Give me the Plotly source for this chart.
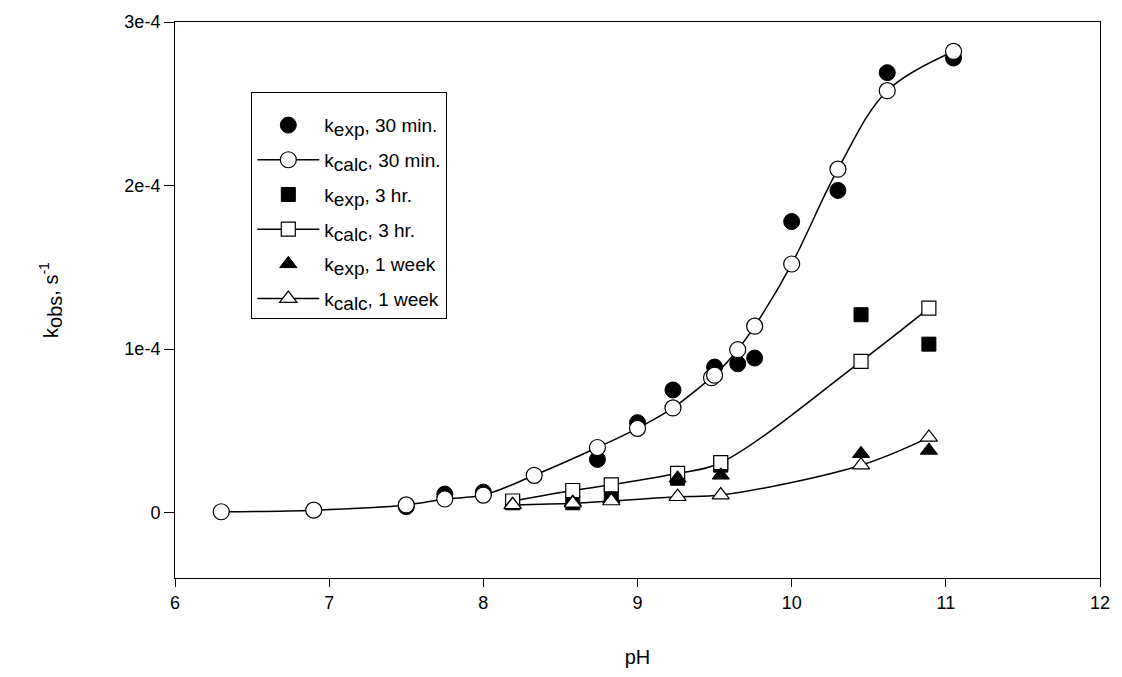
import plotly.graph_objects as go

# ---- data (pH, k in s^-1) ----
ph_exp_30 = [7.5, 7.75, 8.0, 8.74, 9.0, 9.23, 9.5, 9.65, 9.76, 10.0, 10.3, 10.62, 11.05]
k_exp_30 = [0.036e-4, 0.113e-4, 0.125e-4, 0.325e-4, 0.55e-4, 0.75e-4, 0.89e-4, 0.91e-4,
            0.945e-4, 1.78e-4, 1.97e-4, 2.69e-4, 2.78e-4]

ph_calc_30 = [6.3, 6.9, 7.5, 7.75, 8.0, 8.33, 8.74, 9.0, 9.23, 9.48, 9.5, 9.65, 9.76,
              10.0, 10.3, 10.62, 11.05]
k_calc_30 = [0.005e-4, 0.015e-4, 0.047e-4, 0.083e-4, 0.107e-4, 0.228e-4, 0.398e-4, 0.515e-4,
             0.64e-4, 0.825e-4, 0.84e-4, 0.996e-4, 1.14e-4, 1.52e-4, 2.10e-4, 2.58e-4, 2.82e-4]

ph_exp_3h = [8.19, 8.58, 8.83, 9.26, 9.54, 10.45, 10.89]
k_exp_3h = [0.06e-4, 0.06e-4, 0.107e-4, 0.21e-4, 0.29e-4, 1.21e-4, 1.03e-4]

ph_calc_3h = [8.19, 8.58, 8.83, 9.26, 9.54, 10.45, 10.89]
k_calc_3h = [0.071e-4, 0.135e-4, 0.17e-4, 0.24e-4, 0.305e-4, 0.925e-4, 1.25e-4]

ph_exp_1w = [8.19, 8.58, 8.83, 9.26, 9.54, 10.45, 10.89]
k_exp_1w = [0.05e-4, 0.063e-4, 0.085e-4, 0.21e-4, 0.228e-4, 0.36e-4, 0.38e-4]

ph_calc_1w = [8.19, 8.58, 8.83, 9.26, 9.54, 10.45, 10.89]
k_calc_1w = [0.047e-4, 0.057e-4, 0.071e-4, 0.097e-4, 0.107e-4, 0.29e-4, 0.46e-4]

x_ticks = [6, 7, 8, 9, 10, 11, 12]
y_ticks = [0, 1e-4, 2e-4, 3e-4]
y_tick_labels = ["0", "1e-4", "2e-4", "3e-4"]

FONT = "Liberation Sans, Arial, sans-serif"


def sub(txt, px):
    # full-size subscript, as in the original figure
    return "<sub><span style='font-size:%dpx'>%s</span></sub>" % (px, txt)


fig = go.Figure()


def exp_trace(x, y, symbol, name, size, group):
    return go.Scatter(x=x, y=y, mode="markers", name=name, legendgroup=group,
                      marker=dict(symbol=symbol, size=size, color="black",
                                  line=dict(color="black", width=1)))


def calc_trace(x, y, symbol, name, size, group):
    return go.Scatter(x=x, y=y, mode="lines+markers", name=name, legendgroup=group,
                      line=dict(color="black", width=1.5, shape="spline", smoothing=1),
                      marker=dict(symbol=symbol, size=size, color="white",
                                  line=dict(color="black", width=1.2)))


LS = 19
fig.add_trace(exp_trace(ph_exp_30, k_exp_30, "circle", "k" + sub("exp", LS) + ", 30 min.", 16, "g1"))
fig.add_trace(calc_trace(ph_calc_30, k_calc_30, "circle", "k" + sub("calc", LS) + ", 30 min.", 16, "g2"))
fig.add_trace(exp_trace(ph_exp_3h, k_exp_3h, "square", "k" + sub("exp", LS) + ", 3 hr.", 14, "g3"))
fig.add_trace(calc_trace(ph_calc_3h, k_calc_3h, "square", "k" + sub("calc", LS) + ", 3 hr.", 14, "g4"))
fig.add_trace(exp_trace(ph_exp_1w, k_exp_1w, "triangle-up", "k" + sub("exp", LS) + ", 1 week", 15, "g5"))
fig.add_trace(calc_trace(ph_calc_1w, k_calc_1w, "triangle-up", "k" + sub("calc", LS) + ", 1 week", 15, "g6"))

fig.update_layout(
    width=1122, height=677,
    margin=dict(l=175, r=14, t=22, b=93),
    paper_bgcolor="white", plot_bgcolor="white",
    font=dict(family=FONT, size=18, color="black"),
    showlegend=True,
    legend=dict(x=0.0825, y=0.8737, xanchor="left", yanchor="top",
                bordercolor="black", borderwidth=1, bgcolor="white",
                font=dict(family=FONT, size=LS, color="black"),
                title=dict(text=" ", font=dict(size=10)),
                traceorder="grouped", tracegroupgap=7, itemwidth=62),
    xaxis=dict(range=[6, 12], tickvals=x_ticks, ticks="outside", ticklen=8,
               tickcolor="black", showline=True, linecolor="black", linewidth=1,
               mirror=True, showgrid=False, zeroline=False,
               title=dict(text="pH", font=dict(size=20), standoff=38),
               tickfont=dict(size=18)),
    yaxis=dict(range=[-0.4e-4, 3e-4], tickvals=y_ticks, ticktext=y_tick_labels,
               ticks="outside", ticklen=10, tickcolor="black", showline=True,
               linecolor="black", linewidth=1, mirror=True, showgrid=False,
               zeroline=False,
               title=dict(text="k" + sub("obs", 20) + ", s<sup>-1</sup>", font=dict(size=20),
                          standoff=60),
               tickfont=dict(size=18)),
)

# remove the browser's default 8px body margin so the figure fills the window exactly
fig.write_html("out.html",
               config={"displayModeBar": False},
               post_script="document.body.style.margin='0px';"
                           "document.body.style.overflow='hidden';")
